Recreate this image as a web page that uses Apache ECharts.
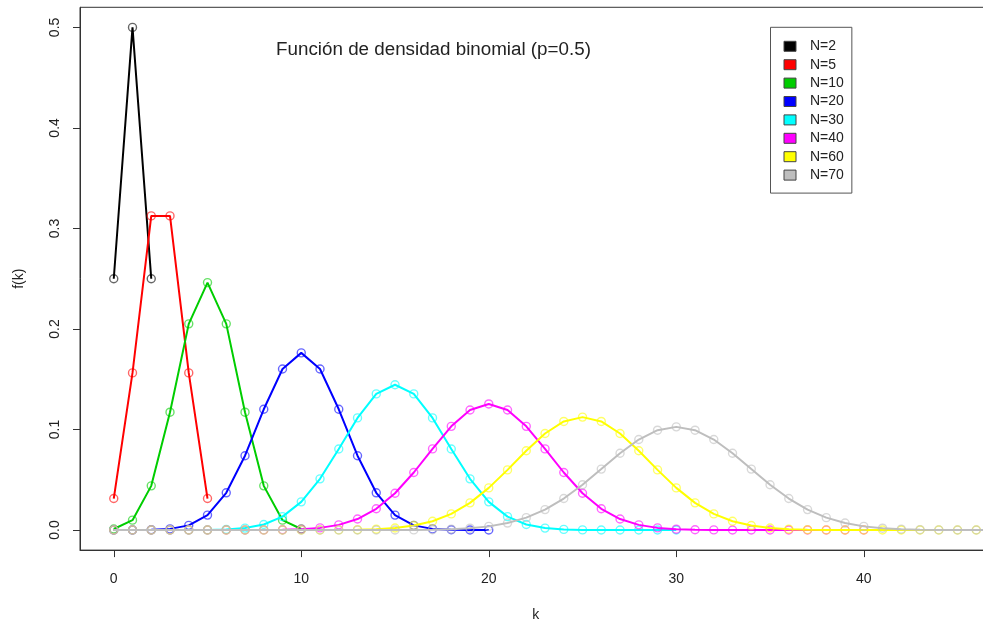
<!DOCTYPE html>
<html>
<head>
<meta charset="utf-8">
<title>Función de densidad binomial</title>
<script src="https://cdn.jsdelivr.net/npm/echarts@6/dist/echarts.min.js"></script>
<style>
  html, body { margin: 0; padding: 0; background: #fff; }
  #chart { width: 983px; height: 626px; }
</style>
</head>
<body>
<div id="chart"></div>
<script>
// Binomial probabilities f(k), k = 0..N, p = 0.5 (rounded to 4 decimals)
const dens2 = [0.25, 0.5, 0.25];
const dens5 = [0.0313, 0.1563, 0.3125, 0.3125, 0.1563, 0.0313];
const dens10 = [0.001, 0.0098, 0.0439, 0.1172, 0.2051, 0.2461, 0.2051, 0.1172, 0.0439, 0.0098, 0.001];
const dens20 = [0, 0, 0.0002, 0.0011, 0.0046, 0.0148, 0.037, 0.0739, 0.1201, 0.1602, 0.1762,
  0.1602, 0.1201, 0.0739, 0.037, 0.0148, 0.0046, 0.0011, 0.0002, 0, 0];
const dens30 = [0, 0, 0, 0, 0, 0.0001, 0.0006, 0.0019, 0.0055, 0.0133, 0.028, 0.0509, 0.0806, 0.1115, 0.1354, 0.1445,
  0.1354, 0.1115, 0.0806, 0.0509, 0.028, 0.0133, 0.0055, 0.0019, 0.0006, 0.0001, 0, 0, 0, 0, 0];
const dens40 = [0, 0, 0, 0, 0, 0, 0, 0,
  0.0001, 0.0002, 0.0008, 0.0021, 0.0051, 0.0109, 0.0211, 0.0366, 0.0572, 0.0807, 0.1031, 0.1194, 0.1254,
  0.1194, 0.1031, 0.0807, 0.0572, 0.0366, 0.0211, 0.0109, 0.0051, 0.0021, 0.0008, 0.0002, 0.0001,
  0, 0, 0, 0, 0, 0, 0, 0];
const dens60 = [0, 0, 0, 0, 0, 0, 0, 0, 0, 0, 0, 0,
  0.0001, 0.0003, 0.0008, 0.002, 0.0044, 0.0087, 0.016, 0.027, 0.0419, 0.0598, 0.0788, 0.096, 0.108, 0.1123,
  0.108, 0.096, 0.0788, 0.0598, 0.0419, 0.027, 0.016, 0.0087, 0.0044, 0.002, 0.0008, 0.0003, 0.0001,
  0, 0, 0, 0, 0, 0, 0, 0, 0, 0, 0, 0];
const dens70 = [0, 0, 0, 0, 0, 0, 0, 0, 0, 0, 0, 0, 0, 0, 0, 0,
  0.0001, 0.0003, 0.0008, 0.0018, 0.0036, 0.0069, 0.0123, 0.0203, 0.0313, 0.045, 0.0606, 0.0763, 0.09, 0.0993, 0.1026,
  0.0993, 0.09, 0.0763, 0.0606, 0.045, 0.0313, 0.0203, 0.0123, 0.0069, 0.0036, 0.0018, 0.0008, 0.0003, 0.0001,
  0, 0, 0, 0, 0, 0, 0, 0, 0, 0, 0, 0, 0, 0, 0, 0];

const seriesNames = ['N=2', 'N=5', 'N=10', 'N=20', 'N=30', 'N=40', 'N=60', 'N=70'];
const seriesValues = [dens2, dens5, dens10, dens20, dens30, dens40, dens60, dens70];
const seriesColors = ['#000000', '#FF0000', '#00CD00', '#0000FF', '#00FFFF', '#FF00FF', '#FFFF00', '#BEBEBE'];

const xTicks = [0, 10, 20, 30, 40];
const yTicks = [0, 0.1, 0.2, 0.3, 0.4, 0.5];

const titleText = 'Función de densidad binomial (p=0.5)';
const FONT = '"Liberation Sans", Arial, Helvetica, sans-serif';

function withAlpha(hex, a) {
  const r = parseInt(hex.slice(1, 3), 16);
  const g = parseInt(hex.slice(3, 5), 16);
  const b = parseInt(hex.slice(5, 7), 16);
  return 'rgba(' + r + ',' + g + ',' + b + ',' + a + ')';
}

const chart = echarts.init(document.getElementById('chart'), null, { renderer: 'canvas' });

const series = seriesValues.map((vals, i) => ({
  name: seriesNames[i],
  type: 'line',
  data: vals.map((v, k) => [k, v]),
  symbol: 'circle',
  symbolSize: 8,
  showAllSymbol: true,
  lineStyle: { color: seriesColors[i], width: 2 },
  itemStyle: {
    color: 'rgba(0,0,0,0)',
    borderColor: withAlpha(seriesColors[i], 0.6),
    borderWidth: 1.4
  },
  emphasis: { disabled: true },
  z: 2 + i
}));

chart.setOption({
  animation: false,
  backgroundColor: '#ffffff',
  textStyle: { fontFamily: FONT },
  grid: {
    left: 80, top: 7.3, bottom: 75.9, right: -8.3,
    show: true, borderColor: '#333', borderWidth: 1,
    containLabel: false,
    outerBoundsMode: 'none'
  },
  xAxis: {
    type: 'value',
    min: -1.8, max: 46.8,
    name: 'k',
    nameLocation: 'middle',
    nameGap: 58,
    nameTextStyle: { fontSize: 14, color: '#222', fontFamily: FONT },
    splitLine: { show: false },
    axisLine: { show: true, onZero: false, lineStyle: { color: '#333', width: 1 } },
    axisTick: { show: true, inside: false, length: 7, customValues: xTicks, lineStyle: { color: '#333' } },
    axisLabel: {
      customValues: xTicks, margin: 22, fontSize: 14, color: '#222', fontFamily: FONT,
      formatter: v => String(v)
    }
  },
  yAxis: {
    type: 'value',
    min: -0.02, max: 0.52,
    name: 'f(k)',
    nameLocation: 'middle',
    nameGap: 54,
    nameRotate: 90,
    nameTextStyle: { fontSize: 14, color: '#222', fontFamily: FONT },
    splitLine: { show: false },
    axisLine: { show: true, onZero: false, lineStyle: { color: '#333', width: 1 } },
    axisTick: { show: true, inside: false, length: 7, customValues: yTicks, lineStyle: { color: '#333' } },
    axisLabel: {
      customValues: yTicks, margin: 18, rotate: 90, fontSize: 14, color: '#222', fontFamily: FONT,
      formatter: v => Number(v).toFixed(1)
    }
  },
  legend: {
    orient: 'vertical',
    left: 770.5, top: 27.3,
    icon: 'rect',
    itemWidth: 12, itemHeight: 10,
    itemGap: 4.4,
    padding: [12, 8, 11, 13],
    borderColor: '#555', borderWidth: 1,
    selectedMode: false,
    textStyle: { fontSize: 14, color: '#222', fontFamily: FONT, padding: [0, 0, 0, 9] },
    data: seriesNames.map((n, i) => ({
      name: n,
      itemStyle: { color: seriesColors[i], borderColor: '#444', borderWidth: 1 }
    }))
  },
  graphic: [{
    type: 'text',
    x: 433.5, y: 50,
    style: {
      text: titleText, fontSize: 18.8, fill: '#222', fontFamily: FONT,
      align: 'center', verticalAlign: 'middle'
    }
  }],
  series: series
});
</script>
</body>
</html>
